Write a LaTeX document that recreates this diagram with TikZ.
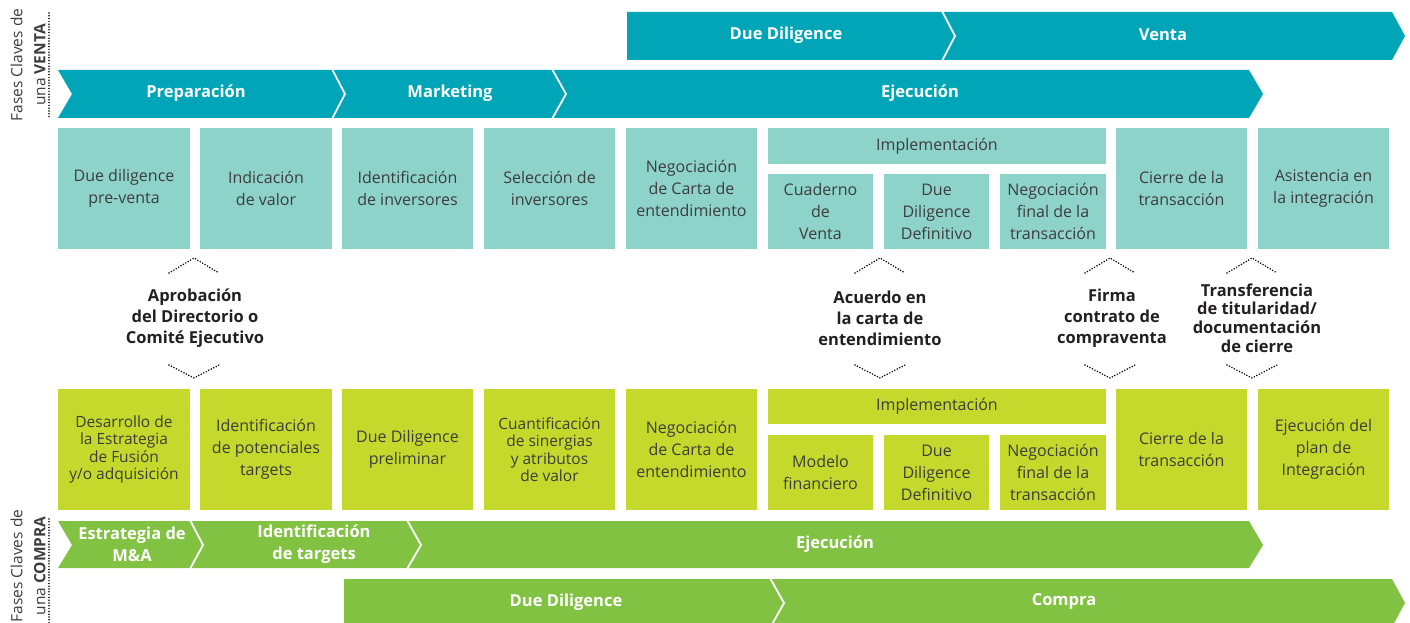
\documentclass[tikz,border=0pt]{standalone}
\usepackage{fontspec}
\setmainfont{Open Sans}
\definecolor{tealA}{HTML}{00A6B8}
\definecolor{tealB}{HTML}{8DD3CA}
\definecolor{greenA}{HTML}{81C242}
\definecolor{greenB}{HTML}{C5D92D}
\definecolor{txt}{HTML}{3D3D3D}
\definecolor{mile}{HTML}{231F20}
\tikzset{
  bx/.style={inner sep=0pt, align=center, text=txt, font=\fontsize{16}{22}\selectfont},
  tbox/.style={bx, fill=tealB},
  gbox/.style={bx, fill=greenB},
  tight/.style={font=\fontsize{15.5}{17.4}\selectfont},
  head/.style={text=white, align=center, font=\bfseries\fontsize{16.5}{22}\selectfont},
  sep/.style={draw=white, line width=1.8pt},
  milestone/.style={align=center, text=mile, font=\bfseries\fontsize{16.5}{21}\selectfont},
  dots/.style={draw=black, line width=1.7pt, dash pattern=on 0pt off 2.8pt, line cap=round},
  vlabel/.style={rotate=90, align=center, text=txt, font=\fontsize{15.5}{23}\selectfont},
}
\begin{document}
\begin{tikzpicture}[x=1pt,y=-1pt]
\useasboundingbox (0,0) rectangle (1410,623);
\begin{scope}
\clip (0,0) rectangle (1410,623);
% ---------- VENTA chevrons ----------
\fill[tealA] (627,12) -- (1392,12) -- (1405,36) -- (1392,60) -- (627,60) -- cycle;
\draw[sep] (942,11) -- (955,36) -- (942,61);
\node[head] (vdd) at (786,35) {Due Diligence};
\node[head] (vventa) at (1163,35) {Venta};

\fill[tealA] (58,70) -- (1249,70) -- (1263,94) -- (1249,118) -- (58,118) -- (72,94) -- cycle;
\draw[sep] (332,69) -- (345,94) -- (332,119);
\draw[sep] (552,69) -- (566,94) -- (552,119);
\node[head] (vprep) at (196,93) {Preparación};
\node[head] (vmark) at (450,93) {Marketing};
\node[head] (vejec) at (920,93) {Ejecución};

% vertical label VENTA
\draw[dots] (49,13) -- (49,118);
\node[vlabel] (lventa) at (28,65) {Fases Claves de\\una \textbf{VENTA}};

% ---------- VENTA boxes ----------
\node[tbox, minimum width=132pt, minimum height=121pt] (t1) at (124,188.5) {Due diligence\\pre-venta};
\node[tbox, minimum width=132pt, minimum height=121pt] (t2) at (266,188.5) {Indicación\\de valor};
\node[tbox, minimum width=131pt, minimum height=121pt] (t3) at (407.5,188.5) {Identificación\\de inversores};
\node[tbox, minimum width=131pt, minimum height=121pt] (t4) at (549.5,188.5) {Selección de\\inversores};
\node[tbox, minimum width=131pt, minimum height=121pt] (t5) at (691.5,188.5) {Negociación\\de Carta de\\entendimiento};
\node[tbox, minimum width=338pt, minimum height=36pt] (t6) at (937,146) {Implementación};
\node[tbox, minimum width=105pt, minimum height=75pt] (t6a) at (820.5,211.5) {Cuaderno\\de\\Venta};
\node[tbox, minimum width=105pt, minimum height=75pt] (t6b) at (936.5,211.5) {Due\\Diligence\\Definitivo};
\node[tbox, minimum width=106pt, minimum height=75pt] (t6c) at (1053,211.5) {Negociación\\final de la\\transacción};
\node[tbox, minimum width=131pt, minimum height=121pt] (t7) at (1181.5,188.5) {Cierre de la\\transacción};
\node[tbox, minimum width=131pt, minimum height=121pt] (t8) at (1323.5,188.5) {Asistencia en\\la integración};

% ---------- milestones ----------
\node[milestone] (m1) at (195,318) {Aprobación\\del Directorio o\\Comité Ejecutivo};
\node[milestone] (m2) at (880,318) {Acuerdo en\\la carta de\\entendimiento};
\node[milestone] (m3) at (1112,318) {Firma\\contrato de\\compraventa};
\node[milestone, font=\bfseries\fontsize{16.5}{18.7}\selectfont] (m4) at (1257,318) {Transferencia\\de titularidad/\\documentación\\de cierre};

\foreach \cx in {194,880,1110,1252}{
  \draw[dots] (\cx-25,273) -- (\cx,258) -- (\cx+25,273);
  \draw[dots] (\cx-25,365) -- (\cx,378) -- (\cx+25,365);
}

% ---------- COMPRA boxes ----------
\node[gbox, tight, minimum width=132pt, minimum height=121pt] (g1) at (124,449.5) {Desarrollo de\\la Estrategia\\de Fusión\\y/o adquisición};
\node[gbox, minimum width=132pt, minimum height=121pt] (g2) at (266,449.5) {Identificación\\de potenciales\\targets};
\node[gbox, minimum width=131pt, minimum height=121pt] (g3) at (407.5,449.5) {Due Diligence\\preliminar};
\node[gbox, tight, minimum width=131pt, minimum height=121pt] (g4) at (549.5,449.5) {Cuantificación\\de sinergias\\y atributos\\de valor};
\node[gbox, minimum width=131pt, minimum height=121pt] (g5) at (691.5,449.5) {Negociación\\de Carta de\\entendimiento};
\node[gbox, minimum width=338pt, minimum height=35pt] (g6) at (937,406.5) {Implementación};
\node[gbox, minimum width=105pt, minimum height=75pt] (g6a) at (820.5,472.5) {Modelo\\financiero};
\node[gbox, minimum width=105pt, minimum height=75pt] (g6b) at (936.5,472.5) {Due\\Diligence\\Definitivo};
\node[gbox, minimum width=106pt, minimum height=75pt] (g6c) at (1053,472.5) {Negociación\\final de la\\transacción};
\node[gbox, minimum width=131pt, minimum height=121pt] (g7) at (1181.5,449.5) {Cierre de la\\transacción};
\node[gbox, minimum width=131pt, minimum height=121pt] (g8) at (1323.5,449.5) {Ejecución del\\plan de\\Integración};

% ---------- COMPRA chevrons ----------
\fill[greenA] (58,521) -- (1249,521) -- (1263,545) -- (1249,568) -- (58,568) -- (72,545) -- cycle;
\draw[sep] (190,520) -- (203,545) -- (190,569);
\draw[sep] (407,520) -- (421,545) -- (407,569);
\node[head] (cestr) at (132,544) {Estrategia de\\M\&A};
\node[head] (cident) at (314,544) {Identificación\\de targets};
\node[head] (cejec) at (835,544) {Ejecución};

\fill[greenA] (344,579) -- (1392,579) -- (1405,603) -- (1392,627) -- (344,627) -- cycle;
\draw[sep] (770,578) -- (784,603) -- (770,628);
\node[head] (cdd) at (566,602) {Due Diligence};
\node[head] (ccompra) at (1064,602) {Compra};

% vertical label COMPRA
\draw[dots] (49,519) -- (49,623);
\node[vlabel] (lcompra) at (28,566) {Fases Claves de\\una \textbf{COMPRA}};
\end{scope}
\end{tikzpicture}
\end{document}
